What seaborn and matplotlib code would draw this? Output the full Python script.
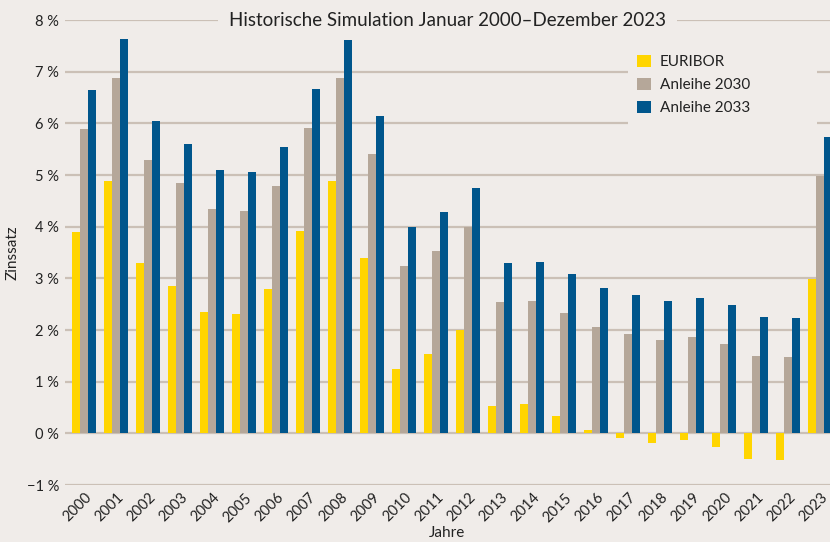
import pandas as pd
import matplotlib
matplotlib.use("Agg")
from matplotlib import pyplot as plt
from matplotlib.patches import Rectangle
import seaborn as sns

years = [str(y) for y in range(2000, 2024)]
euribor = [3.90, 4.88, 3.29, 2.85, 2.35, 2.31, 2.79, 3.91, 4.88, 3.39, 1.24, 1.53,
           2.00, 0.54, 0.56, 0.33, 0.06, -0.09, -0.19, -0.13, -0.26, -0.50, -0.52, 2.98]
anleihe2030 = [5.89, 6.88, 5.29, 4.84, 4.34, 4.30, 4.79, 5.91, 6.88, 5.41, 3.24, 3.53,
               3.99, 2.54, 2.56, 2.33, 2.05, 1.92, 1.80, 1.86, 1.74, 1.49, 1.47, 4.99]
anleihe2033 = [6.65, 7.64, 6.05, 5.60, 5.10, 5.06, 5.54, 6.67, 7.64, 6.14, 3.99, 4.28,
               4.75, 3.29, 3.31, 3.08, 2.81, 2.67, 2.56, 2.62, 2.48, 2.25, 2.23, 5.74]
series = ["EURIBOR", "Anleihe 2030", "Anleihe 2033"]
yticks = list(range(-1, 9))

df = pd.DataFrame({
    "Jahr": years * 3,
    "Zinssatz": euribor + anleihe2030 + anleihe2033,
    "Serie": [series[0]] * 24 + [series[1]] * 24 + [series[2]] * 24,
})

bg = "#f0ece9"
grid = "#cbc0b6"
textc = "#222222"

sns.set_theme(style="white")
plt.rcParams["font.family"] = ["Lato", "DejaVu Sans"]

fig = plt.figure(figsize=(8.3, 5.42), dpi=100, facecolor=bg)
ax = fig.add_axes([0.078, 0.105, 0.922, 0.858])
ax.set_facecolor(bg)

sns.barplot(data=df, x="Jahr", y="Zinssatz", hue="Serie", ax=ax, width=0.75,
            palette=["#ffd500", "#b5a799", "#00568c"], saturation=1, zorder=3,
            linewidth=0, edgecolor="none")

ax.set_ylim(-1, 8)
ax.set_xlim(-0.61, 23.3)
ax.set_yticks(yticks)
ax.set_yticklabels([f"{t} %".replace("-", "\u2212") for t in yticks], fontsize=10.5, color=textc)
for t in yticks:
    ax.axhline(t, color=grid, lw=1.6, zorder=1)
ax.tick_params(axis="both", length=0, pad=4)
plt.setp(ax.get_xticklabels(), rotation=45, ha="right", rotation_mode="anchor",
         fontsize=10.5, color=textc)
for s in ax.spines.values():
    s.set_visible(False)

ax.set_xlabel("Jahre", fontsize=11, color=textc, labelpad=1)
ax.set_ylabel("Zinssatz", fontsize=11, color=textc)
ax.yaxis.set_label_coords(-0.059, 0.5)

ax.text(0.5, 1.0, "Historische Simulation Januar 2000\u2013Dezember 2023",
        transform=ax.transAxes, ha="center", va="center", fontsize=13.5, color=textc,
        bbox=dict(facecolor=bg, edgecolor="none", pad=8), zorder=5)

# background behind legend hides the gridlines
ax.add_patch(Rectangle((0.736, 0.763), 0.247, 0.183, transform=ax.transAxes,
                       facecolor=bg, edgecolor="none", zorder=2))

leg = ax.legend(loc="upper left", bbox_to_anchor=(0.73, 0.955), frameon=False,
                fontsize=11, handlelength=0.9, handleheight=0.9, handletextpad=0.6,
                labelspacing=0.55)
for t in leg.get_texts():
    t.set_color(textc)
leg.set_zorder(6)

plt.savefig("out.png", dpi=100, facecolor=bg)
plt.close(fig)
